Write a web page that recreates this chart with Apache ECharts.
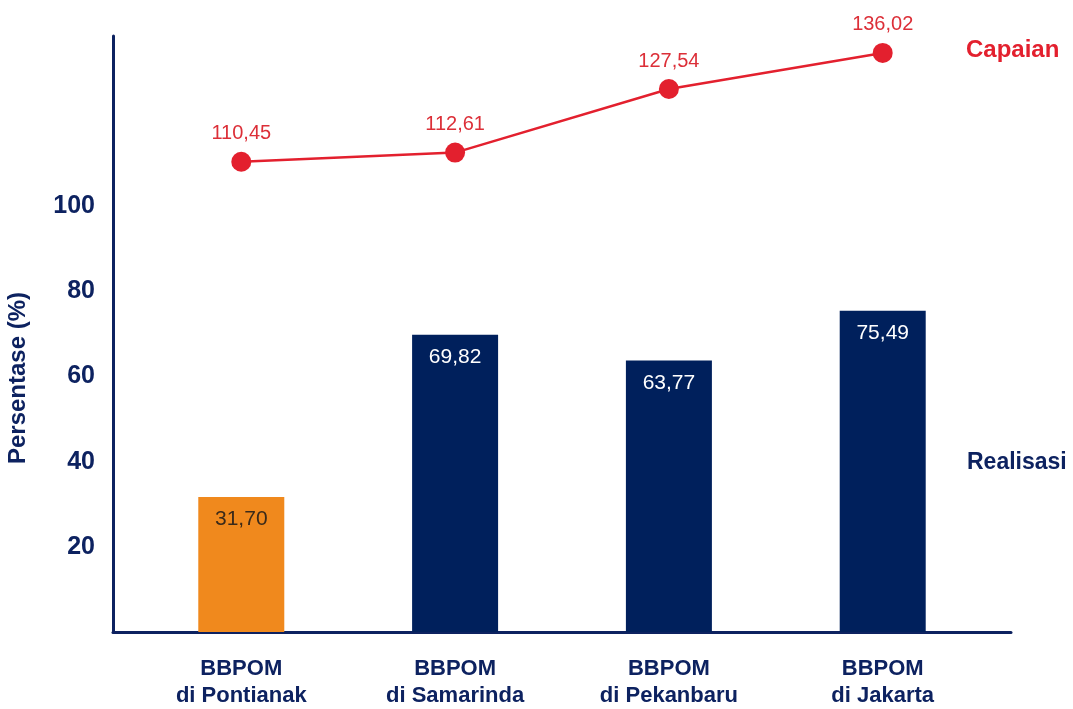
<!DOCTYPE html>
<html>
<head>
<meta charset="utf-8">
<script src="https://cdn.jsdelivr.net/npm/echarts@6/dist/echarts.min.js"></script>
<style>
  html, body { margin: 0; padding: 0; background: #fff; }
  #main { width: 1073px; height: 709px; }
</style>
</head>
<body>
<div id="main"></div>
<script>
var categories = ["BBPOM\ndi Pontianak", "BBPOM\ndi Samarinda", "BBPOM\ndi Pekanbaru", "BBPOM\ndi Jakarta"];
var realisasi = [31.70, 69.82, 63.77, 75.49];
var capaian = [110.45, 112.61, 127.54, 136.02];
var yTicks = [20, 40, 60, 80, 100];

var navy = "#0d2260";
var barNavy = "#00205c";
var orange = "#f0891d";
var red = "#e3202e";

function fmt(v) {
  return v.toFixed(2).replace(".", ",");
}

var chartDom = document.getElementById("main");
var myChart = echarts.init(chartDom);
var option;

option = {
  animation: false,
  grid: { left: 113, right: 62, top: 36, bottom: 76 },
  xAxis: {
    type: "value",
    min: -0.6,
    max: 3.6,
    splitLine: { show: false },
    axisTick: { show: false },
    axisLine: { show: true, onZero: false, lineStyle: { color: navy, width: 3 } },
    axisLabel: {
      customValues: [0, 1, 2, 3],
      formatter: function (v) { return categories[Math.round(v)]; },
      color: navy,
      fontFamily: "Liberation Sans",
      fontWeight: "bold",
      fontSize: 22,
      lineHeight: 27,
      margin: 23
    }
  },
  yAxis: {
    type: "value",
    min: 0,
    max: 140,
    splitLine: { show: false },
    axisTick: { show: false },
    axisLine: { show: true, onZero: false, lineStyle: { color: navy, width: 3 } },
    axisLabel: {
      customValues: yTicks,
      color: navy,
      fontFamily: "Liberation Sans",
      fontWeight: "bold",
      fontSize: 25,
      margin: 18
    }
  },
  graphic: [
    {
      type: "text",
      x: 18, y: 378,
      rotation: Math.PI / 2,
      style: {
        text: "Persentase (%)",
        fill: navy,
        font: "bold 24px Liberation Sans",
        textAlign: "center",
        textVerticalAlign: "middle"
      }
    },
    {
      type: "text",
      x: 966, y: 50,
      style: {
        text: "Capaian",
        fill: red,
        font: "bold 24px Liberation Sans",
        textVerticalAlign: "middle"
      }
    },
    {
      type: "text",
      x: 967, y: 463,
      style: {
        text: "Realisasi",
        fill: navy,
        font: "bold 23px Liberation Sans",
        textVerticalAlign: "middle"
      }
    }
  ],
  series: [
    {
      name: "Realisasi",
      type: "bar",
      barWidth: 86,
      data: realisasi.map(function (v, i) {
        return i === 0
          ? { value: [i, v], label: { color: "#3a2a1a" } }
          : { value: [i, v] };
      }),
      itemStyle: {
        color: function (p) { return p.dataIndex === 0 ? orange : barNavy; }
      },
      label: {
        show: true,
        position: "insideTop",
        distance: 12,
        fontFamily: "Liberation Sans",
        fontSize: 21,
        formatter: function (p) { return fmt(p.value[1]); },
        color: "#fff"
      }
    },
    {
      name: "Capaian",
      type: "line",
      data: capaian.map(function (v, i) { return [i, v]; }),
      symbol: "circle",
      symbolSize: 20,
      lineStyle: { color: red, width: 2.5 },
      itemStyle: { color: red },
      label: {
        show: true,
        position: "top",
        distance: 8,
        color: "#dc2f38",
        fontFamily: "Liberation Sans",
        fontSize: 20,
        formatter: function (p) { return fmt(p.value[1]); }
      }
    }
  ]
};

option && myChart.setOption(option);
</script>
</body>
</html>
